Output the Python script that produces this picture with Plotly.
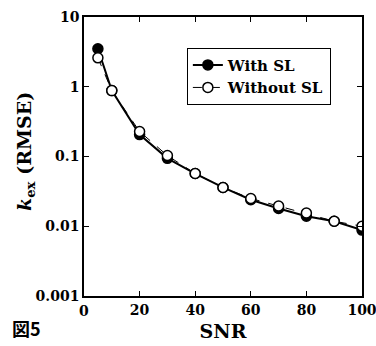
import plotly.graph_objects as go

snr = [5, 10, 20, 30, 40, 50, 60, 70, 80, 90, 100]
with_sl = [3.5, 0.88, 0.206, 0.094, 0.057, 0.036, 0.024, 0.018, 0.0139, 0.0118, 0.0088]
without_sl = [2.6, 0.88, 0.228, 0.103, 0.057, 0.036, 0.025, 0.0195, 0.0155, 0.0118, 0.0100]

y_tickvals = [0.001, 0.01, 0.1, 1, 10]
y_ticktext = ["0.001", "0.01", "0.1", "1", "10"]
x_tickvals = [20, 40, 60, 80, 100]
x_origin_label = "0"

serif = "DejaVu Serif"

fig = go.Figure()
fig.add_trace(go.Scatter(
    x=snr, y=with_sl, name="With SL", mode="lines+markers",
    line=dict(color="black", width=2),
    marker=dict(symbol="circle", size=10, color="black", line=dict(color="black", width=1.5)),
))
fig.add_trace(go.Scatter(
    x=snr, y=without_sl, name="Without SL", mode="lines+markers",
    line=dict(color="black", width=1, dash="dash"),
    marker=dict(symbol="circle", size=10, color="white", line=dict(color="black", width=1.5)),
))

fig.update_layout(
    template="none",
    width=376, height=346,
    margin=dict(l=84, r=14, t=17, b=50),
    paper_bgcolor="white", plot_bgcolor="white",
    font=dict(family=serif, color="black"),
    showlegend=True,
    legend=dict(
        x=0.37, y=0.89, xanchor="left", yanchor="top",
        bgcolor="white", bordercolor="black", borderwidth=1,
        font=dict(family=serif, size=15, color="black", weight="bold"),
        tracegroupgap=0, itemwidth=30,
    ),
    xaxis=dict(
        range=[0, 100], tickvals=x_tickvals, ticks="inside", ticklen=5,
        tickwidth=1, tickcolor="black", mirror="ticks", showline=True,
        linecolor="black", linewidth=1.5, showgrid=False, zeroline=False,
        automargin=False, ticklabeloverflow="allow",
        tickfont=dict(family=serif, size=14, color="black", weight="bold"),
        title=dict(text="SNR", font=dict(family=serif, size=19, color="black", weight="bold"), standoff=8),
    ),
    yaxis=dict(
        type="log", range=[-3, 1], tickvals=y_tickvals, ticktext=y_ticktext,
        ticks="inside", ticklen=5, tickwidth=1, tickcolor="black",
        mirror="ticks", showline=True, linecolor="black", linewidth=1.5,
        showgrid=False, zeroline=False, automargin=False, ticklabeloverflow="allow",
        tickfont=dict(family=serif, size=14, color="black", weight="bold"),
    ),
)

# origin tick label of the x axis, anchored at x = 0 in data coordinates
fig.add_annotation(
    text=x_origin_label, xref="x", yref="paper", x=0, y=-15/279,
    xanchor="center", yanchor="middle", showarrow=False,
    font=dict(family=serif, size=14, color="black", weight="bold"),
)

fig.add_annotation(
    text="<i>k</i><sub>ex</sub> (RMSE)", xref="paper", yref="paper",
    x=-59/278, y=0.516, xanchor="center", yanchor="middle", textangle=-90,
    showarrow=False,
    font=dict(family=serif, size=19, color="black", weight="bold"),
)

fig.add_annotation(
    text="図5", xref="paper", yref="paper", x=-84/278, y=-32/279,
    xanchor="left", yanchor="middle", showarrow=False,
    font=dict(family="Noto Sans CJK JP", size=18, color="black", weight="bold"),
    xshift=10,
)

fig.write_html("out.html")
